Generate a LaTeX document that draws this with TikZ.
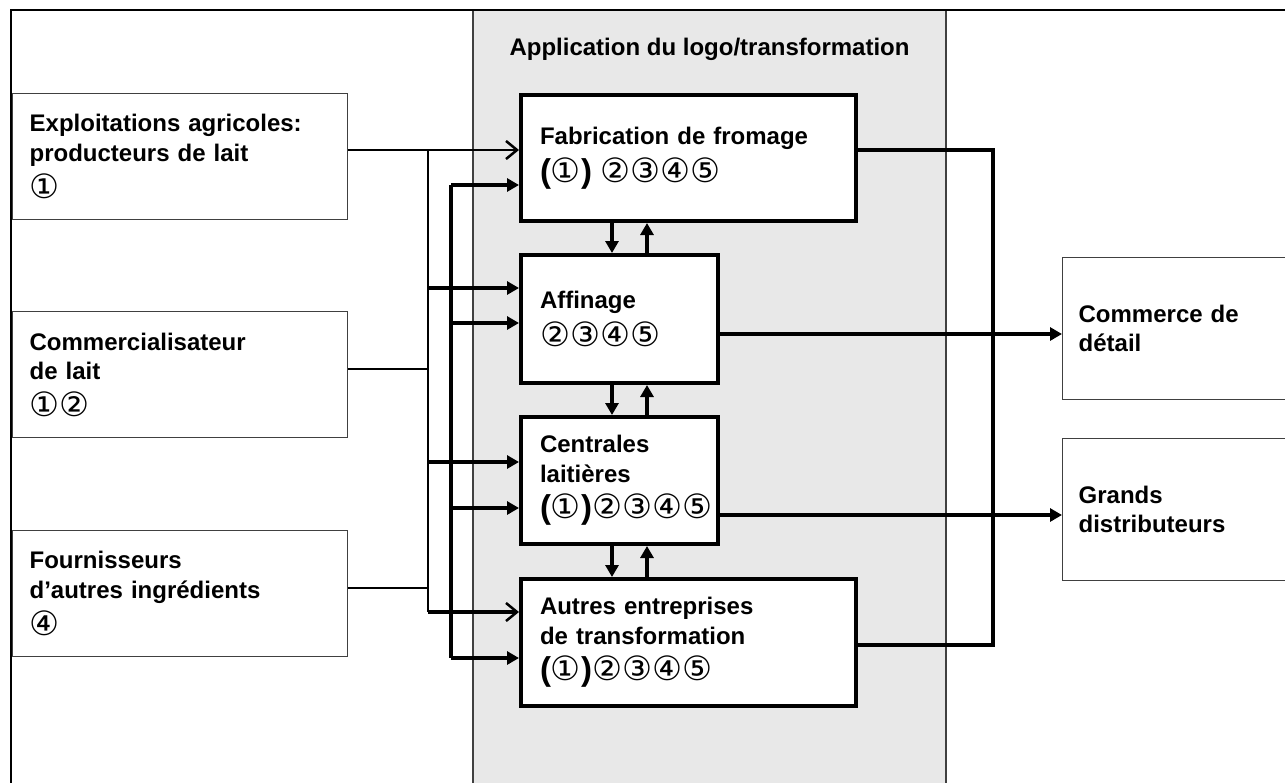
\documentclass[tikz,border=0pt]{standalone}
\usepackage{fontspec}
\setmainfont{Liberation Sans}
\newfontfamily\circfont{DejaVu Sans}
\usetikzlibrary{arrows.meta}
\newcommand\cn[1]{{\mdseries\circfont\fontsize{33.5}{29.5}\selectfont #1}}
\newcommand\bp[1]{{\fontsize{33}{29.5}\selectfont #1}}
\begin{document}
\begin{tikzpicture}[x=1pt,y=-1pt,
 lbl/.style={font=\bfseries\fontsize{24}{29.5}\selectfont, align=left},
 srcbox/.style={lbl, draw=black!75, line width=1.3pt, fill=white, anchor=north west,
   minimum width=335pt, minimum height=126pt, inner xsep=17pt, text width=301pt},
 ctrbox/.style={lbl, draw=black, line width=4pt, fill=white, anchor=north west,
   inner xsep=19pt},
 dstbox/.style={lbl, draw=black!75, line width=1.3pt, fill=white, anchor=north west,
   minimum width=240pt, minimum height=142pt, inner xsep=16pt, text width=208pt},
 thinl/.style={line width=1.5pt},
 thkl/.style={line width=4pt},
 fin/.style={line width=3.5pt, -{Triangle[length=12pt,width=13pt]}},
 fopen/.style={-{Straight Barb[length=11pt,width=18pt,line width=2.5pt]}},
]
\useasboundingbox (0,0) rectangle (1285,782);
\clip (0,0) rectangle (1285,782);
% gray column
\fill[black!9] (473,10) rectangle (946,800);
\draw[line width=1.2pt, black!75] (473,10) -- (473,800) (946,10) -- (946,800);
% outer frame
\draw[line width=2pt] (11,800) -- (11,10) -- (1300,10);
\node[lbl, anchor=base] (title) at (709.5,55) {Application du logo/transformation};
% sources
\node[srcbox] (src1) at (12,93) {Exploitations agricoles:\\producteurs de lait\\[7pt]\cn{①}};
\node[srcbox] (src2) at (12,311) {Commercialisateur\\de lait\\[7pt]\cn{①②}};
\node[srcbox] (src3) at (12,530) {Fournisseurs\\d’autres ingrédients\\[7pt]\cn{④}};
% processing
\node[ctrbox, minimum width=335pt, minimum height=126pt, text width=297pt] (fab) at (519,93)
  {Fabrication de fromage\\[7pt]\bp{(}\cn{①}\bp{)} \cn{②③④⑤}};
\node[ctrbox, minimum width=197pt, minimum height=128pt, text width=159pt] (aff) at (519,253)
  {Affinage\\[7pt]\cn{②③④⑤}};
\node[ctrbox, minimum width=197pt, minimum height=127pt, text width=159pt] (cen) at (519,415)
  {Centrales\\laitières\\[7pt]\bp{(}\cn{①}\bp{)}\cn{②③④⑤}};
\node[ctrbox, minimum width=335pt, minimum height=127pt, text width=297pt] (aut) at (519,577)
  {Autres entreprises\\de transformation\\[7pt]\bp{(}\cn{①}\bp{)}\cn{②③④⑤}};
% destinations
\node[dstbox] (com) at (1062,257) {Commerce de\\détail};
\node[dstbox] (gra) at (1062,438) {Grands\\distributeurs};
% buses
\coordinate (L) at (428,0);
\coordinate (R) at (451,0);
\coordinate (O) at (993,0);
\draw[thinl] (src1.east |- 0,150) -- (L |- 0,150);
\draw[thinl] (src2.east |- 0,369) -- (L |- 0,369);
\draw[thinl] (src3.east |- 0,588) -- (L |- 0,588);
\draw[thinl] (L |- 0,150) -- (L |- 0,612);
\draw[line width=3.5pt] (R |- 0,185) -- (R |- 0,658);
\draw[fopen, line width=2.5pt] (L |- 0,150) -- (fab.west |- 0,150);
\draw[fin] (L |- 0,288) -- (aff.west |- 0,288);
\draw[fin] (L |- 0,462) -- (cen.west |- 0,462);
\draw[fopen, line width=3.5pt] (L |- 0,612) -- (aut.west |- 0,612);
\draw[fin] (R |- 0,185) -- (fab.west |- 0,185);
\draw[fin] (R |- 0,323) -- (aff.west |- 0,323);
\draw[fin] (R |- 0,508) -- (cen.west |- 0,508);
\draw[fin] (R |- 0,658) -- (aut.west |- 0,658);
% between processing boxes
\draw[fin, line width=4pt] (fab.south -| 612,0) -- (aff.north -| 612,0);
\draw[fin, line width=4pt] (aff.north -| 647,0) -- (fab.south -| 647,0);
\draw[fin, line width=4pt] (aff.south -| 612,0) -- (cen.north -| 612,0);
\draw[fin, line width=4pt] (cen.north -| 647,0) -- (aff.south -| 647,0);
\draw[fin, line width=4pt] (cen.south -| 612,0) -- (aut.north -| 612,0);
\draw[fin, line width=4pt] (aut.north -| 647,0) -- (cen.south -| 647,0);
% outputs
\draw[thkl] (fab.east |- 0,150) -- (O |- 0,150) -- (O |- 0,645) -- (aut.east |- 0,645);
\draw[fin, line width=4pt] (aff.east |- 0,334) -- (com.west |- 0,334);
\draw[fin, line width=4pt] (cen.east |- 0,515) -- (gra.west |- 0,515);
\end{tikzpicture}
\end{document}
